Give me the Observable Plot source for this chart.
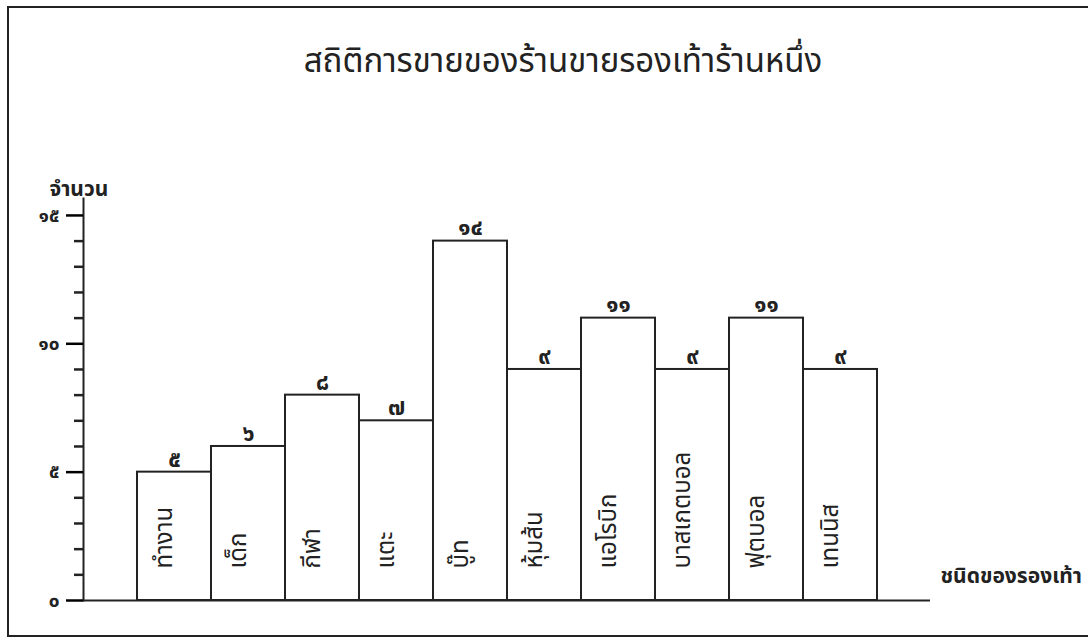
<!DOCTYPE html>
<html>
<head>
<meta charset="utf-8">
<script src="https://cdn.jsdelivr.net/npm/d3@7"></script>
<script src="https://cdn.jsdelivr.net/npm/@observablehq/plot@0.6"></script>
<style>
  html, body { margin: 0; padding: 0; background: #fff; }
  #wrap { position: relative; width: 1088px; height: 642px; overflow: hidden; }
  #border { position: absolute; left: 7px; top: 6px; width: 1100px; height: 631px; border: 2px solid #222; box-sizing: border-box; pointer-events: none; }
  svg { font-family: Tahoma, "Noto Sans Thai", Loma, "Noto Sans", sans-serif; }
</style>
</head>
<body>
<div id="wrap"><div id="border"></div></div>
<script>
const title = "สถิติการขายของร้านขายรองเท้าร้านหนึ่ง";
const yLabel = "จำนวน";
const xLabel = "ชนิดของรองเท้า";
const categories = ["ทำงาน", "เด็ก", "กีฬา", "แตะ", "บู๊ท", "หุ้มส้น", "แอโรบิก", "บาสเกตบอล", "ฟุตบอล", "เทนนิส"];
const values = [5, 6, 8, 7, 14, 9, 11, 9, 11, 9];
const majorTicks = [0, 5, 10, 15];
const minorTicks = [1,2,3,4,6,7,8,9,11,12,13,14];
const thaiDigits = ["๐","๑","๒","๓","๔","๕","๖","๗","๘","๙"];

const toThai = n => String(n).replace(/[0-9]/g, d => thaiDigits[+d]);
const data = categories.map((c, i) => ({name: c, value: values[i]}));

const W = 1088, ML = 83, MR = 158;

const chart = Plot.plot({
  width: W,
  height: 642,
  marginLeft: ML,
  marginRight: MR,
  marginTop: 198,
  marginBottom: 42,
  style: {background: "transparent", color: "#222", overflow: "visible"},
  x: {domain: categories, paddingInner: 0, paddingOuter: 0.67, axis: null, label: null},
  y: {domain: [0, 15.66], axis: null, label: null},
  marks: [
    Plot.barY(data, {x: "name", y: "value", fill: "white", stroke: "#222", strokeWidth: 2, inset: 0}),
    Plot.ruleY([0], {stroke: "#222", strokeWidth: 2}),
    Plot.frame({anchor: "left", stroke: "#222", strokeWidth: 2}),
    Plot.axisY({ticks: minorTicks, tickSize: 9, tickFormat: () => "", label: null, stroke: "#222", strokeWidth: 2.5, strokeOpacity: 1}),
    Plot.axisY({ticks: majorTicks, tickSize: 17, tickPadding: 7, tickFormat: toThai, label: null, stroke: "#000", strokeWidth: 2.5, strokeOpacity: 1, fontSize: 19, fontWeight: "bold", fill: "#222"}),
    Plot.text(data, {x: "name", y: "value", text: d => toThai(d.value), dy: -13, fontSize: 23, fontWeight: "bold", fill: "#222"}),
    Plot.text(data, {x: "name", y: 0, text: "name", rotate: -90, textAnchor: "start", dy: -32, dx: -10, fontSize: 24, fill: "#222"}),
    Plot.text([title], {frameAnchor: "top", dx: 56, dy: -150, fontSize: 33, fill: "#222"}),
    Plot.text([yLabel], {frameAnchor: "top-left", textAnchor: "start", dx: -34, dy: -17, fontSize: 21, fontWeight: "bold", fill: "#222"}),
    Plot.text([xLabel], {frameAnchor: "bottom-right", textAnchor: "start", dx: 10, dy: -18, fontSize: 21, fontWeight: "bold", fill: "#222"})
  ]
});
document.getElementById("wrap").insertBefore(chart, document.getElementById("border"));
</script>
</body>
</html>
